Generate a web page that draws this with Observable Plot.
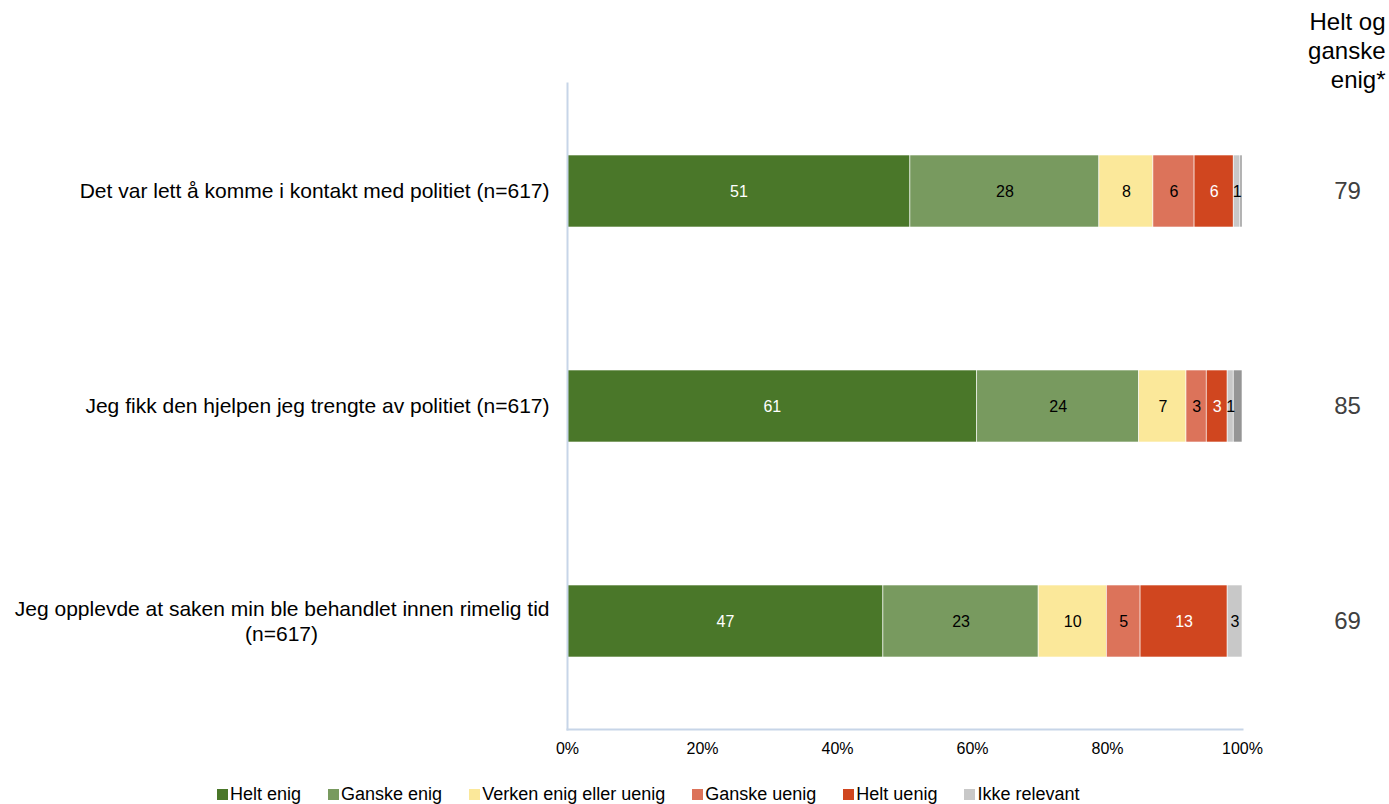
<!DOCTYPE html>
<html>
<head>
<meta charset="utf-8">
<script src="https://cdn.jsdelivr.net/npm/d3@7"></script>
<script src="https://cdn.jsdelivr.net/npm/@observablehq/plot@0.6"></script>
<style>
  html, body { margin: 0; padding: 0; background: #fff; }
  body { width: 1389px; font-family: "Liberation Sans", Arial, sans-serif; }
  #legend { display: flex; align-items: center; height: 19px; padding-left: 217px; font-size: 18px; color: #000; }
  #legend .item { display: flex; align-items: center; margin-right: 27px; }
  #legend .sw { width: 11px; height: 11px; margin-right: 2px; }
</style>
</head>
<body>
<div id="chart"></div>
<div id="legend"></div>
<script>
// ---- data ----
const categories = [
  "Det var lett å komme i kontakt med politiet (n=617)",
  "Jeg fikk den hjelpen jeg trengte av politiet (n=617)",
  "Jeg opplevde at saken min ble behandlet innen rimelig tid (n=617)"
];
const categoryLines = [
  ["Det var lett å komme i kontakt med politiet (n=617)"],
  ["Jeg fikk den hjelpen jeg trengte av politiet (n=617)"],
  ["Jeg opplevde at saken min ble behandlet innen rimelig tid", "(n=617)"]
];
const series = ["Helt enig", "Ganske enig", "Verken enig eller uenig", "Ganske uenig", "Helt uenig", "Ikke relevant", "Ubesvart"];
const legendSeries = ["Helt enig", "Ganske enig", "Verken enig eller uenig", "Ganske uenig", "Helt uenig", "Ikke relevant"];
const colors = ["#4a7729", "#789a5f", "#fbe89a", "#dc735a", "#d0461f", "#c8c8c8", "#959595"];
const labelColors = ["#ffffff", "#000000", "#000000", "#000000", "#ffffff", "#000000", "#000000"];

const heltEnig     = [50.8, 60.7, 46.8];
const ganskeEnig   = [28.0, 24.0, 23.0];
const verken       = [8.0, 7.0, 10.1];
const ganskeUenig  = [6.1, 3.0, 5.0];
const heltUenig    = [5.8, 3.1, 12.9];
const ikkeRelevant = [1.0, 0.9, 2.2];
const ubesvart     = [0.3, 1.3, 0.0];

const labelsHeltEnig     = ["51", "61", "47"];
const labelsGanskeEnig   = ["28", "24", "23"];
const labelsVerken       = ["8", "7", "10"];
const labelsGanskeUenig  = ["6", "3", "5"];
const labelsHeltUenig    = ["6", "3", "13"];
const labelsIkkeRelevant = ["1", "1", "3"];
const labelsUbesvart     = ["", "", ""];

const totals = [79, 85, 69];
const xTicks = [0, 20, 40, 60, 80, 100];
const headerText = "Helt og\nganske\nenig*";

// ---- build tidy table ----
const valueArrays = [heltEnig, ganskeEnig, verken, ganskeUenig, heltUenig, ikkeRelevant, ubesvart];
const labelArrays = [labelsHeltEnig, labelsGanskeEnig, labelsVerken, labelsGanskeUenig, labelsHeltUenig, labelsIkkeRelevant, labelsUbesvart];
const rows = [];
categories.forEach((c, ci) => {
  series.forEach((s, si) => {
    rows.push({cat: c, series: s, value: valueArrays[si][ci], label: labelArrays[si][ci], tcolor: labelColors[si]});
  });
});

// category label pieces
const catLabelRows = [];
categories.forEach((c, ci) => {
  const lines = categoryLines[ci];
  if (lines.length === 1) catLabelRows.push({cat: c, text: lines[0], kind: "single"});
  else {
    catLabelRows.push({cat: c, text: lines[0], kind: "first"});
    catLabelRows.push({cat: c, text: lines[1], kind: "second"});
  }
});
const totalRows = categories.map((c, i) => ({cat: c, text: String(totals[i])}));

const axisColor = "#c7d5e8";

const chart = Plot.plot({
  width: 1389,
  height: 785,
  marginLeft: 567,
  marginRight: 147,
  marginTop: 83,
  marginBottom: 56,
  style: {fontFamily: "'Liberation Sans', Arial, sans-serif", background: "#fff"},
  x: {domain: [0, 100], axis: null, label: null},
  y: {domain: categories, axis: null, paddingInner: 0.666, paddingOuter: 0.333},
  color: {domain: series, range: colors},
  marks: [
    Plot.barX(rows, Plot.stackX({x: "value", y: "cat", fill: "series", stroke: "#ffffff", strokeWidth: 0.6})),
    Plot.text(rows, Plot.stackX({x: "value", y: "cat", text: "label", fill: "tcolor", fontSize: 16})),
    Plot.axisX({ticks: xTicks, tickFormat: d => d + "%", tickSize: 0, tickPadding: 13, fontSize: 16, fill: "#000", anchor: "bottom", label: null}),
    Plot.frame({anchor: "left", stroke: axisColor, strokeWidth: 2}),
    Plot.frame({anchor: "bottom", stroke: axisColor, strokeWidth: 2}),
    // category labels
    Plot.text(catLabelRows.filter(d => d.kind === "single"), {y: "cat", text: "text", frameAnchor: "left", dx: -18, textAnchor: "end", fontSize: 21, fill: "#000"}),
    Plot.text(catLabelRows.filter(d => d.kind === "first"), {y: "cat", text: "text", frameAnchor: "left", dx: -18, dy: -12, textAnchor: "end", fontSize: 21, fill: "#000"}),
    Plot.text(catLabelRows.filter(d => d.kind === "second"), {y: "cat", text: "text", frameAnchor: "left", dx: -286, dy: 13, textAnchor: "middle", fontSize: 21, fill: "#000"}),
    // totals column
    Plot.text(totalRows, {y: "cat", text: "text", frameAnchor: "right", dx: 105, textAnchor: "middle", fontSize: 24, fill: "#404040"}),
    // header
    Plot.text([headerText], {text: d => d, frameAnchor: "top-right", dx: 143, dy: -74, textAnchor: "end", lineAnchor: "top", lineHeight: 1.2, fontSize: 24, fill: "#000"})
  ]
});
document.getElementById("chart").appendChild(chart);

// legend
const legend = d3.select("#legend");
legendSeries.forEach((s) => {
  const item = legend.append("div").attr("class", "item");
  item.append("div").attr("class", "sw").style("background", colors[series.indexOf(s)]);
  item.append("span").text(s);
});
</script>
</body>
</html>
